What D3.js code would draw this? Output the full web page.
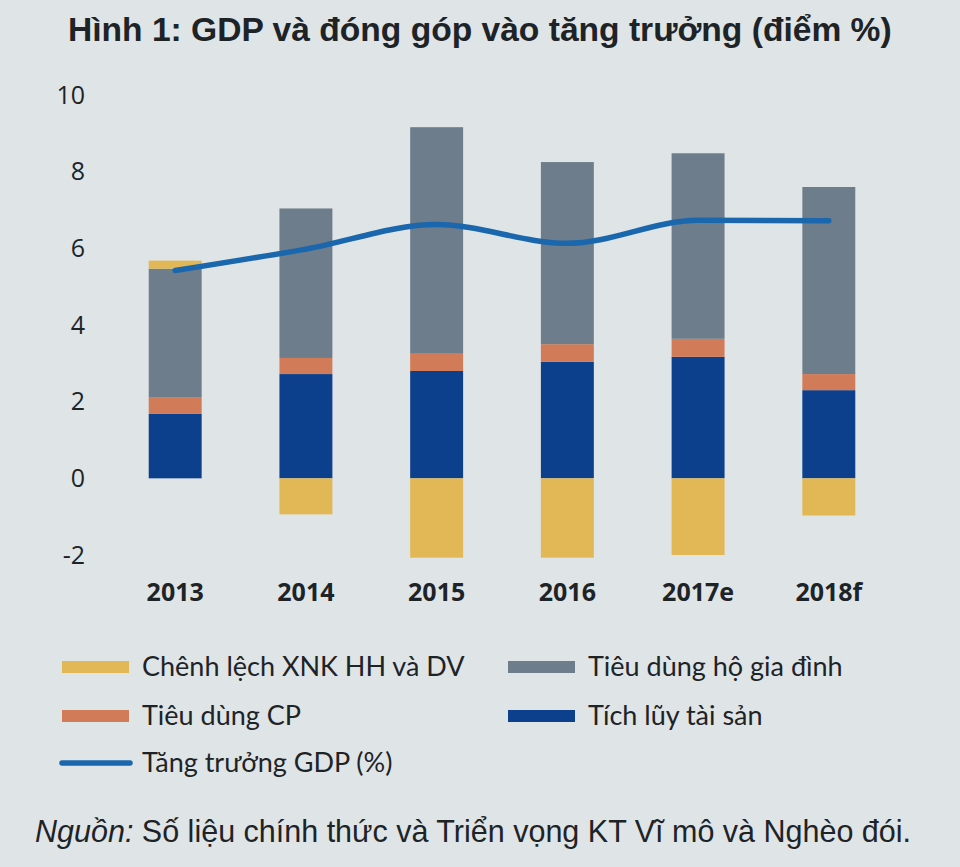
<!DOCTYPE html>
<html><head><meta charset="utf-8">
<script src="https://cdn.jsdelivr.net/npm/d3@7"></script>
<style>
html,body{margin:0;padding:0;background:#dfe4e6;}
svg{display:block;}
</style></head>
<body>
<svg id="chart" width="960" height="867"></svg>
<script>
const categories = ["2013","2014","2015","2016","2017e","2018f"];
const tichLuy   = [1.68, 2.72, 2.80, 3.04, 3.17, 2.30];
const tieuDungCP = [0.44, 0.42, 0.45, 0.46, 0.47, 0.42];
const tieuDungHGD = [3.35, 3.90, 5.91, 4.75, 4.84, 4.88];
const chenhLech = [0.21, -0.94, -2.07, -2.07, -2.00, -0.97];
const gdp = [5.42, 5.98, 6.62, 6.13, 6.73, 6.72];
const yTicks = [-2, 0, 2, 4, 6, 8, 10];

const colors = {
  chenh: "#e2b857",
  hgd: "#6e7d8b",
  cp: "#d27b58",
  tl: "#0c3f8c",
  line: "#1a67ad"
};

const svg = d3.select("#chart");
const x = d3.scaleBand().domain(categories).range([109.5, 894.5]).paddingInner(0.595).paddingOuter(0.3);
const y = d3.scaleLinear().domain([-2, 10]).range([555, 95]);

// Title
svg.append("text").attr("x", 68).attr("y", 41)
  .attr("font-family", "Liberation Sans, Arial, sans-serif").attr("font-weight", "bold")
  .attr("font-size", 33.6).attr("fill", "#1d2326")
  .text("Hình 1: GDP và đóng góp vào tăng trưởng (điểm %)");

// Y axis labels
const yAxis = d3.axisLeft(y).tickValues(yTicks).tickSize(0).tickPadding(0).tickFormat(d => String(d));
const gy = svg.append("g").attr("transform", "translate(85,0)").call(yAxis);
gy.select(".domain").remove();
gy.selectAll("text").attr("font-family", "Open Sans, sans-serif").attr("font-size", 25).attr("fill", "#1d2326");

// stacks
const rows = categories.map((c, i) => ({cat: c, tl: tichLuy[i], cp: tieuDungCP[i], hgd: tieuDungHGD[i], chenh: chenhLech[i]}));
const segs = [];
rows.forEach(r => {
  let pos = 0, neg = 0;
  [["tl", r.tl], ["cp", r.cp], ["hgd", r.hgd], ["chenh", r.chenh]].forEach(([k, v]) => {
    if (v >= 0) { segs.push({cat: r.cat, key: k, y0: pos, y1: pos + v}); pos += v; }
    else { segs.push({cat: r.cat, key: k, y0: neg + v, y1: neg}); neg += v; }
  });
});
svg.append("g").selectAll("rect").data(segs).join("rect")
  .attr("x", d => x(d.cat))
  .attr("width", x.bandwidth())
  .attr("y", d => y(d.y1))
  .attr("height", d => y(d.y0) - y(d.y1))
  .attr("fill", d => colors[d.key]);

// GDP line
const line = d3.line().x((d, i) => x(categories[i]) + x.bandwidth() / 2).y(d => y(d)).curve(d3.curveMonotoneX);
svg.append("path").datum(gdp).attr("d", line)
  .attr("fill", "none").attr("stroke", colors.line).attr("stroke-width", 5.5).attr("stroke-linecap", "round");

// X axis labels
const xAxis = d3.axisBottom(x).tickSize(0).tickPadding(0);
const gx = svg.append("g").attr("transform", "translate(0,580)").call(xAxis);
gx.select(".domain").remove();
gx.selectAll("text").attr("font-family", "Open Sans, sans-serif").attr("font-weight", "bold")
  .attr("font-size", 25).attr("fill", "#1d2326").attr("dy", "0.85em");

// Legend
const legend = [
  {label: "Chênh lệch XNK HH và DV", color: colors.chenh, type: "rect", x: 62, y: 667},
  {label: "Tiêu dùng hộ gia đình", color: colors.hgd, type: "rect", x: 508, y: 667},
  {label: "Tiêu dùng CP", color: colors.cp, type: "rect", x: 62, y: 716},
  {label: "Tích lũy tài sản", color: colors.tl, type: "rect", x: 508, y: 716},
  {label: "Tăng trưởng GDP (%)", color: colors.line, type: "line", x: 62, y: 763}
];
const lg = svg.append("g").selectAll("g").data(legend).join("g")
  .attr("transform", d => `translate(${d.x},${d.y})`);
lg.filter(d => d.type === "rect").append("rect")
  .attr("x", 0).attr("y", -6).attr("width", 67).attr("height", 12).attr("fill", d => d.color);
lg.filter(d => d.type === "line").append("line")
  .attr("x1", 0).attr("x2", 68).attr("y1", 0).attr("y2", 0)
  .attr("stroke", d => d.color).attr("stroke-width", 5.5).attr("stroke-linecap", "round");
lg.append("text").attr("x", 80).attr("y", 0).attr("dy", "0.35em")
  .attr("font-family", "Lato, sans-serif").attr("font-size", 27).attr("fill", "#1d2326")
  .text(d => d.label);

// Source
const src = svg.append("text").attr("x", 35).attr("y", 842)
  .attr("font-family", "Liberation Sans, Arial, sans-serif").attr("font-size", 30.5).attr("fill", "#1d2326");
src.append("tspan").attr("font-style", "italic").text("Nguồn:");
src.append("tspan").text(" Số liệu chính thức và Triển vọng KT Vĩ mô và Nghèo đói.");
</script>
</body></html>
